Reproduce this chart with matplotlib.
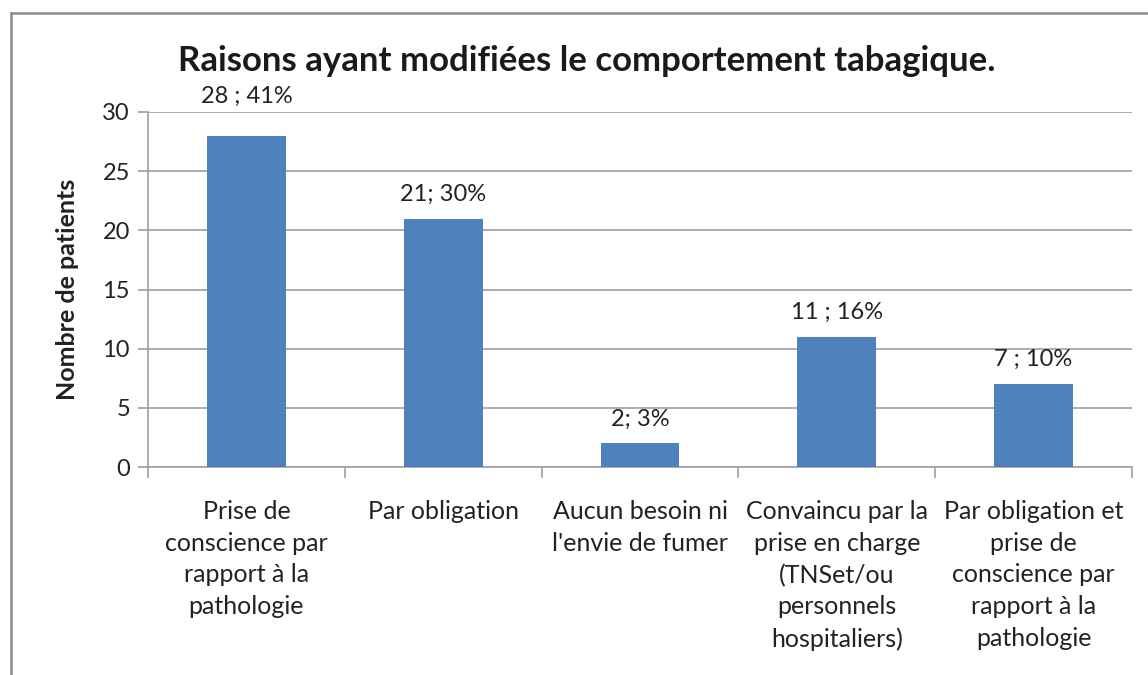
import numpy as np
import matplotlib.pyplot as plt
from matplotlib.lines import Line2D

plt.rcParams['font.family'] = ['Lato', 'DejaVu Sans']

categories = ['Prise de\nconscience par\nrapport à la\npathologie',
              'Par obligation',
              'Aucun besoin ni\nl\'envie de fumer',
              'Convaincu par la\nprise en charge\n(TNSet/ou\npersonnels\nhospitaliers)',
              'Par obligation et\nprise de\nconscience par\nrapport à la\npathologie']
counts = [28, 21, 2, 11, 7]
labels = ['28 ; 41%', '21; 30%', '2; 3%', '11 ; 16%', '7 ; 10%']

bar_color = '#4F81BD'
grid_color = '#A0A0A0'
text_color = '#222222'

fig = plt.figure(figsize=(11.48, 6.75), dpi=100)
ax = fig.add_axes([148 / 1148, 1 - 467 / 675, (1132 - 148) / 1148, (467 - 112) / 675])

ymax = 30
x = np.arange(len(counts))
ax.bar(x, counts, width=0.4, color=bar_color, zorder=3)
for xi, v, t in zip(x, counts, labels):
    # labels that would cross the top gridline go above the plot area
    if v > ymax - 3:
        ax.annotate(t, (xi, ymax), xytext=(0, 4), textcoords='offset points',
                    ha='center', va='bottom', fontsize=17, color=text_color)
    else:
        ax.annotate(t, (xi, v), xytext=(0, 10), textcoords='offset points',
                    ha='center', va='bottom', fontsize=17, color=text_color)

ax.set_xlim(-0.5, len(counts) - 0.5)
ax.set_ylim(0, ymax)
ax.set_yticks(range(0, ymax + 1, 5))
ax.yaxis.grid(True, color=grid_color, linewidth=1.2, zorder=0)
ax.tick_params(axis='y', labelsize=17, length=7, color=grid_color, width=1.2,
               pad=6, labelcolor=text_color)
ax.set_xticks(x)
ax.set_xticklabels(categories)
ax.tick_params(axis='x', length=0, labelsize=18, pad=24, labelcolor=text_color)
for lbl in ax.get_xticklabels():
    lbl.set_linespacing(1.45)
# category separators below the axis
ax.set_xticks(np.arange(-0.5, len(counts)), minor=True)
ax.tick_params(axis='x', which='minor', length=8, color=grid_color, width=1.2)

for s in ['top', 'right']:
    ax.spines[s].set_visible(False)
for s in ['left', 'bottom']:
    ax.spines[s].set_color(grid_color)
    ax.spines[s].set_linewidth(1.2)

ax.set_ylabel('Nombre de patients', fontsize=18, fontweight='bold', labelpad=17,
              color=text_color)
fig.text(587 / 1148, 1 - 61 / 675, 'Raisons ayant modifiées le comportement tabagique.',
         ha='center', va='center', fontsize=25, fontweight='bold', color='#1a1a1a')

# outer chart frame (left and top edges)
fig.add_artist(Line2D([10.5 / 1148, 10.5 / 1148], [0, 1 - 13 / 675],
                      transform=fig.transFigure, color='#8c8c8c', linewidth=1.8))
fig.add_artist(Line2D([10.5 / 1148, 1], [1 - 13 / 675, 1 - 13 / 675],
                      transform=fig.transFigure, color='#8c8c8c', linewidth=1.8))

fig.savefig('out.png', dpi=100, facecolor='white')
